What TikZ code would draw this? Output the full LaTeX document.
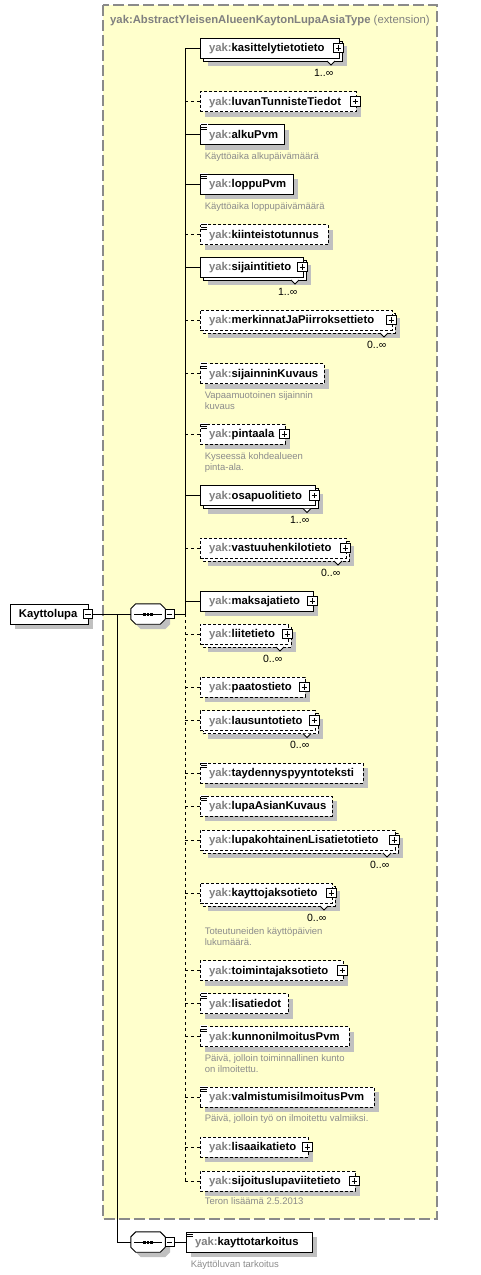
\documentclass[tikz,border=0pt]{standalone}
\usepackage{fontspec}
\setmainfont{Liberation Sans}
\usetikzlibrary{calc}
\definecolor{yfill}{HTML}{FFFFCC}
\definecolor{yborder}{HTML}{8A8A8A}
\definecolor{shadowc}{HTML}{C0C0C0}
\definecolor{yakgray}{HTML}{808080}
\definecolor{anngray}{HTML}{8C8C8C}
\tikzset{
  req/.style={draw=black, line width=0.9pt},
  opt/.style={draw=black, line width=0.9pt, dash pattern=on 3pt off 2pt},
  elembox/.style={fill=white, inner xsep=9pt, inner ysep=0pt, minimum height=20pt,
    text height=8.3pt, text depth=1pt, font=\fontsize{11.3}{13}\selectfont\bfseries},
  reqconn/.style={draw=black, line width=0.9pt},
  optconn/.style={draw=black, line width=0.9pt, dash pattern=on 3pt off 3pt},
  pmbox/.style={draw=black, fill=white, line width=0.8pt, minimum size=9.5pt, inner sep=0pt},
  plusbox/.style={pmbox, path picture={\draw[line width=0.8pt]
      ($(path picture bounding box.west)+(2,0)$) -- ($(path picture bounding box.east)+(-2,0)$)
      ($(path picture bounding box.north)+(0,2)$) -- ($(path picture bounding box.south)+(0,-2)$);}},
  minusbox/.style={pmbox, path picture={\draw[line width=0.8pt]
      ($(path picture bounding box.west)+(2,0)$) -- ($(path picture bounding box.east)+(-2,0)$);}},
  card/.style={inner sep=0pt, font=\fontsize{10.5}{12}\selectfont},
  ann/.style={inner sep=0pt, align=left, text=anngray, font=\fontsize{9.5}{11}\selectfont},
  seqnode/.style={minimum width=34pt, minimum height=20pt, inner sep=0pt},
  titletext/.style={inner sep=0pt, text=yakgray, font=\fontsize{11.3}{13}\selectfont\bfseries},
  ybox/.style={fill=yfill, draw=yborder, line width=1.3pt, dash pattern=on 11pt off 4pt}
}
\newcommand\yak{\textcolor{yakgray}{yak:}}
% single element
\newcommand\ElemS[5]{%
  \fill[shadowc] (205,#2-5) rectangle (#3+5,#2+15);
  \node[elembox,#4,minimum width={#3-200}] (#1) at ({(200+#3)/2},#2)
    {\makebox[\dimexpr #3pt-218pt\relax][l]{\yak #5}};
}
% multiple element
\newcommand\ElemM[5]{%
  \fill[shadowc] (208,#2-2) rectangle (#3+8,#2+18);
  \draw[#4,fill=white] (203,#2-7) rectangle (#3+3,#2+13);
  \draw[line width=0.8pt,fill=white] (#3-12,#2+13) -- (#3-8,#2+17) -- (#3-4,#2+13);
  \node[elembox,#4,minimum width={#3-200}] (#1) at ({(200+#3)/2},#2)
    {\makebox[\dimexpr #3pt-218pt\relax][l]{\yak #5}};
}
\newcommand\Plus[1]{\node[plusbox] (#1p) at ([xshift=-1pt]#1.east) {};}
\newcommand\Doc[1]{%
  \fill[white] ($(#1.north west)+(0.6,-0.7)$) rectangle ($(#1.north west)+(8,0.6)$);
  \draw[line width=0.7pt] ($(#1.north west)+(1.2,0.6)$) -- ++(6,0)
    ($(#1.north west)+(1.2,2.8)$) -- ++(6,0) ($(#1.north west)+(1.2,5)$) -- ++(6,0);}
\newcommand\Card[2]{\node[card, anchor=base east] (#1c) at ($(#1.south east)+(-6,18)$) {#2};}
% #2 = offset of the LAST line's baseline below the box
\newcommand\Ann[3]{\node[ann, anchor=base west] (#1a) at ($(#1.south west)+(5,#2)$) {#3};}
\newcommand\Conn[2]{\draw[#2] (bus|-#1.west) -- (#1.west);}
\newcommand\Seq[2]{%
  \node[seqnode] (#1) at #2 {};
  \fill[shadowc] ($(#1.north west)+(10,5)$) -- ($(#1.north east)+(0,5)$) -- ($(#1.north east)+(5,10)$)
    -- ($(#1.south east)+(5,0)$) -- ($(#1.south east)+(0,5)$) -- ($(#1.south west)+(10,5)$)
    -- ($(#1.south west)+(5,0)$) -- ($(#1.north west)+(5,10)$) -- cycle;
  \draw[line width=0.9pt, fill=white] ($(#1.north west)+(5,0)$) -- ($(#1.north east)+(-5,0)$) -- ($(#1.north east)+(0,5)$)
    -- ($(#1.south east)+(0,-5)$) -- ($(#1.south east)+(-5,0)$) -- ($(#1.south west)+(5,0)$)
    -- ($(#1.south west)+(0,-5)$) -- ($(#1.north west)+(0,5)$) -- cycle;
  \draw[line width=1pt] ($(#1.west)+(3.5,0)$) -- ($(#1.east)+(-3.5,0)$);
  \fill ($(#1.center)+(-4.8,-1.5)$) rectangle ++(2.8,3);
  \fill ($(#1.center)+(-1.4,-1.5)$) rectangle ++(2.8,3);
  \fill ($(#1.center)+(2,-1.5)$) rectangle ++(2.8,3);
  \node[minusbox] (#1m) at ($(#1.east)+(4.5,0)$) {};
}
\begin{document}
\begin{tikzpicture}[x=1pt,y=-1pt]
\useasboundingbox (0,0) rectangle (480,1275);
% extension box
\draw[ybox] (103,5) rectangle (437,1219);
\node[titletext, anchor=base west] (title) at (110,23.5)
  {yak:AbstractYleisenAlueenKaytonLupaAsiaType {\mdseries (extension)}};

\coordinate (bus) at (185,0);
\coordinate (bustop) at (185,48);
\coordinate (busmid) at (185,614);
\coordinate (busbot) at (185,1181);
\draw[reqconn] (bustop) -- (busmid);
\draw[optconn] (busmid) -- (busbot);

% elements
\ElemM{e1}{48}{339}{req}{kasittelytietotieto}\Plus{e1}\Card{e1}{1..∞}\Conn{e1}{reqconn}
\ElemS{e2}{101.5}{356}{opt}{luvanTunnisteTiedot}\Plus{e2}\Conn{e2}{optconn}
\ElemS{e3}{134.5}{284}{req}{alkuPvm}\Doc{e3}\Ann{e3}{15}{Käyttöaika alkupäivämäärä}\Conn{e3}{reqconn}
\ElemS{e4}{184}{293}{req}{loppuPvm}\Doc{e4}\Ann{e4}{15}{Käyttöaika loppupäivämäärä}\Conn{e4}{reqconn}
\ElemS{e5}{234.5}{328}{opt}{kiinteistotunnus}\Doc{e5}\Conn{e5}{optconn}
\ElemM{e6}{267}{303}{req}{sijaintitieto}\Plus{e6}\Card{e6}{1..∞}\Conn{e6}{reqconn}
\ElemM{e7}{320}{392}{opt}{merkinnatJaPiirroksettieto}\Plus{e7}\Card{e7}{0..∞}\Conn{e7}{optconn}
\ElemS{e8}{373.5}{324}{opt}{sijainninKuvaus}\Doc{e8}\Ann{e8}{26}{Vapaamuotoinen sijainnin\\kuvaus}\Conn{e8}{optconn}
\ElemS{e9}{434}{285}{opt}{pintaala}\Doc{e9}\Plus{e9}\Ann{e9}{26}{Kyseessä kohdealueen\\pinta-ala.}\Conn{e9}{optconn}
\ElemM{e10}{495.5}{315}{req}{osapuolitieto}\Plus{e10}\Card{e10}{1..∞}\Conn{e10}{reqconn}
\ElemM{e11}{548}{346}{opt}{vastuuhenkilotieto}\Plus{e11}\Card{e11}{0..∞}\Conn{e11}{optconn}
\ElemS{e12}{601}{313}{req}{maksajatieto}\Plus{e12}\Conn{e12}{reqconn}
\ElemM{e13}{634}{288}{opt}{liitetieto}\Plus{e13}\Card{e13}{0..∞}\Conn{e13}{optconn}
\ElemS{e14}{687}{305}{opt}{paatostieto}\Plus{e14}\Conn{e14}{optconn}
\ElemM{e15}{720.5}{315}{opt}{lausuntotieto}\Plus{e15}\Card{e15}{0..∞}\Conn{e15}{optconn}
\ElemS{e16}{773}{363}{opt}{taydennyspyyntoteksti}\Doc{e16}\Conn{e16}{optconn}
\ElemS{e17}{806}{332}{opt}{lupaAsianKuvaus}\Doc{e17}\Conn{e17}{optconn}
\ElemM{e18}{840}{395}{opt}{lupakohtainenLisatietotieto}\Plus{e18}\Card{e18}{0..∞}\Conn{e18}{optconn}
\ElemM{e19}{893}{332}{opt}{kayttojaksotieto}\Plus{e19}\Card{e19}{0..∞}\Ann{e19}{42.5}{Toteutuneiden käyttöpäivien\\lukumäärä.}\Conn{e19}{optconn}
\ElemS{e20}{970.5}{343}{opt}{toimintajaksotieto}\Plus{e20}\Conn{e20}{optconn}
\ElemS{e21}{1003.5}{288}{opt}{lisatiedot}\Doc{e21}\Conn{e21}{optconn}
\ElemS{e22}{1036.5}{349}{opt}{kunnonilmoitusPvm}\Doc{e22}\Ann{e22}{26}{Päivä, jolloin toiminnallinen kunto\\on ilmoitettu.}\Conn{e22}{optconn}
\ElemS{e23}{1097}{374}{opt}{valmistumisilmoitusPvm}\Doc{e23}\Ann{e23}{14.5}{Päivä, jolloin työ on ilmoitettu valmiiksi.}\Conn{e23}{optconn}
\ElemS{e24}{1147}{308}{opt}{lisaaikatieto}\Plus{e24}\Conn{e24}{optconn}
\ElemS{e25}{1181}{355}{opt}{sijoituslupaviitetieto}\Plus{e25}\Ann{e25}{13.5}{Teron lisäämä 2.5.2013}\Conn{e25}{optconn}

% root element
\fill[shadowc] (15,609) rectangle (93,629);
\node[elembox, req, minimum width=78pt] (kl) at (49,614) {\makebox[60pt][l]{\color{black}Kayttolupa}};
\node[minusbox] (klm) at ([xshift=-0.5pt]kl.east) {};

% sequences
\Seq{seq1}{(148,614)}
\Seq{seq2}{(148,1242)}
\coordinate (junc) at (117,614);
\draw[reqconn] (klm.east) -- (seq1.west);
\draw[reqconn] (seq1m.east) -- (busmid);
\draw[reqconn] (junc) |- (seq2.west);

% kayttotarkoitus
\fill[shadowc] (191,1237) rectangle (317,1257);
\node[elembox, req, minimum width=126pt] (kt) at (249,1242) {\makebox[108pt][l]{\yak kayttotarkoitus}};
\Doc{kt}
\Ann{kt}{15.5}{Käyttöluvan tarkoitus}
\draw[reqconn] (seq2m.east) -- (kt.west);
\end{tikzpicture}
\end{document}
